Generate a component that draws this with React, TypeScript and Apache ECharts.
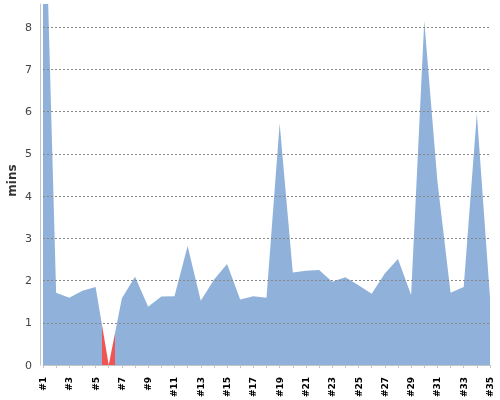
import { useEffect, useRef } from "react";
import * as echarts from "echarts";

// Run numbers #1..#35 and their duration in minutes.
const RUNS = Array.from({ length: 35 }, (_, i) => i + 1);
const MINS = [
  13, 1.71, 1.59, 1.76, 1.85, 0, 1.58, 2.09, 1.38, 1.62, 1.63, 2.82, 1.52, 2.02, 2.39, 1.55, 1.63, 1.59,
  5.72, 2.19, 2.23, 2.25, 1.97, 2.08, 1.89, 1.69, 2.17, 2.51, 1.66, 8.15, 4.35, 1.71, 1.85, 5.95, 1.6,
];
// The run drawn in red (its half-step band on each side).
const FAILED_RUN = 6;

const BLUE = "#8fb1da";
const RED = "#f25454";
const FONT = "DejaVu Sans";

export default function App() {
  const boxRef = useRef<HTMLDivElement>(null);

  useEffect(() => {
    document.body.style.margin = "0";
    if (!boxRef.current) return;
    const chart = echarts.init(boxRef.current, undefined, { renderer: "svg" });
    chart.setOption({
      animation: false,
      grid: { left: 43, right: 10, top: 4, bottom: 35, outerBoundsMode: "none" },
      visualMap: {
        type: "piecewise",
        show: false,
        dimension: 0,
        seriesIndex: 0,
        pieces: [
          { lte: FAILED_RUN - 0.5, color: BLUE },
          { gt: FAILED_RUN - 0.5, lte: FAILED_RUN + 0.5, color: RED },
          { gt: FAILED_RUN + 0.5, color: BLUE },
        ],
      },
      xAxis: {
        type: "value",
        min: 1,
        max: 35,
        interval: 1,
        offset: 4,
        axisLine: { lineStyle: { color: "#c4c4c4" } },
        axisTick: { show: true, length: 3, lineStyle: { color: "#c4c4c4" } },
        splitLine: { show: false },
        axisLabel: {
          rotate: 90,
          margin: 8,
          fontSize: 9,
          fontWeight: "bold",
          fontFamily: FONT,
          color: "#000",
          formatter: (v: number) => (v % 2 === 1 ? `#${v}` : ""),
        },
      },
      yAxis: {
        type: "value",
        min: 0,
        max: 8.55,
        interval: 1,
        offset: 3,
        z: 5,
        name: "mins",
        nameLocation: "middle",
        nameGap: 22,
        nameMoveOverlap: false,
        nameTextStyle: {
          fontSize: 12,
          fontWeight: "bold",
          fontFamily: FONT,
          color: "#333",
          padding: [0, 0, 0, 8],
        },
        axisLine: { show: true, lineStyle: { color: "#c4c4c4" } },
        axisTick: { show: false },
        axisLabel: { fontSize: 11, fontFamily: FONT, color: "#444", margin: 8, showMaxLabel: false },
        splitLine: {
          show: true,
          showMinLine: false,
          showMaxLine: false,
          lineStyle: { color: "#888", type: [2, 2], width: 1 },
        },
      },
      series: [
        {
          type: "line",
          data: RUNS.map((r, i) => [r, MINS[i]]),
          showSymbol: false,
          lineStyle: { width: 0 },
          areaStyle: { opacity: 1 },
          clip: true,
        },
      ],
    });
    return () => chart.dispose();
  }, []);

  return <div ref={boxRef} style={{ position: "fixed", left: 0, top: 0, width: 500, height: 400 }} />;
}
